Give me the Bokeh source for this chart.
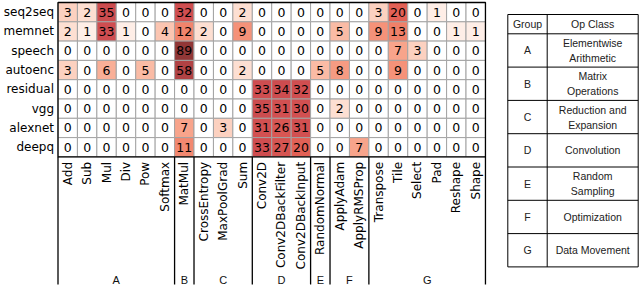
import math
from bokeh.plotting import figure
from bokeh.models import Range1d, ColumnDataSource, LogColorMapper
from bokeh.layouts import row
from bokeh.embed import file_html
from bokeh.resources import INLINE
from bokeh.core.properties import value

# ---------------- data ----------------
workloads = ["seq2seq", "memnet", "speech", "autoenc", "residual", "vgg", "alexnet", "deepq"]
ops = ["Add", "Sub", "Mul", "Div", "Pow", "Softmax", "MatMul", "CrossEntropy",
       "MaxPoolGrad", "Sum", "Conv2D", "Conv2DBackFilter", "Conv2DBackInput",
       "RandomNormal", "ApplyAdam", "ApplyRMSProp", "Transpose", "Tile", "Select",
       "Pad", "Reshape", "Shape"]
op_groups = ["A"] * 6 + ["B"] + ["C"] * 3 + ["D"] * 3 + ["E"] + ["F"] * 2 + ["G"] * 6

seq2seq = [3, 2, 35, 0, 0, 0, 32, 0, 0, 2, 0, 0, 0, 0, 0, 0, 3, 20, 0, 1, 0, 0]
memnet = [2, 1, 33, 1, 0, 4, 12, 2, 0, 9, 0, 0, 0, 0, 5, 0, 9, 13, 0, 0, 1, 1]
speech = [0, 0, 0, 0, 0, 0, 89, 0, 0, 0, 0, 0, 0, 0, 0, 0, 0, 7, 3, 0, 0, 0]
autoenc = [3, 0, 6, 0, 5, 0, 58, 0, 0, 2, 0, 0, 0, 5, 8, 0, 0, 9, 0, 0, 0, 0]
residual = [0, 0, 0, 0, 0, 0, 0, 0, 0, 0, 33, 34, 32, 0, 0, 0, 0, 0, 0, 0, 0, 0]
vgg = [0, 0, 0, 0, 0, 0, 0, 0, 0, 0, 35, 31, 30, 0, 2, 0, 0, 0, 0, 0, 0, 0]
alexnet = [0, 0, 0, 0, 0, 0, 7, 0, 3, 0, 31, 26, 31, 0, 0, 0, 0, 0, 0, 0, 0, 0]
deepq = [0, 0, 0, 0, 0, 0, 11, 0, 0, 0, 33, 27, 20, 0, 0, 7, 0, 0, 0, 0, 0, 0]
matrix = [seq2seq, memnet, speech, autoenc, residual, vgg, alexnet, deepq]

group_letters = ["A", "B", "C", "D", "E", "F", "G"]
group_classes = ["Elementwise\nArithmetic", "Matrix\nOperations", "Reduction and\nExpansion",
                 "Convolution", "Random\nSampling", "Optimization", "Data Movement"]

# ---------------- styling / layout ----------------
W1, H = 500, 303
W2 = 640 - W1
CW, RH = 19.43, 19.3         # px per column / row
LEFT_PX, TOP_PX = 57.5, 2    # heatmap origin inside figure
DEJAVU = value("DejaVu Sans")
SANS = value("Liberation Sans")

# palette (log scale on values 1..100)
anchors = [(0.00, (254, 238, 231)), (0.15, (253, 223, 210)), (0.24, (252, 209, 192)),
           (0.35, (250, 187, 165)), (0.42, (248, 165, 140)), (0.48, (245, 146, 120)),
           (0.55, (240, 130, 106)), (0.65, (226, 97, 86)), (0.76, (207, 77, 80)),
           (0.88, (178, 66, 68)), (0.975, (146, 55, 55)), (1.00, (136, 50, 50))]
palette = []
for i in range(256):
    tt = i / 255
    for (t0, c0), (t1, c1) in zip(anchors[:-1], anchors[1:]):
        if t0 <= tt <= t1:
            f = (tt - t0) / (t1 - t0) if t1 > t0 else 0
            c = tuple(int(round(a + (b - a) * f)) for a, b in zip(c0, c1))
            palette.append("#%02x%02x%02x" % c)
            break
mapper = LogColorMapper(palette=palette, low=1, high=100, low_color="#ffffff")

nrow, ncol = len(workloads), len(ops)
xs, ys, vs, labels = [], [], [], []
for r, vals in enumerate(matrix):
    for c, v in enumerate(vals):
        xs.append(c + 0.5)
        ys.append(-(r + 0.5))
        vs.append(v)
        labels.append(str(v))
src = ColumnDataSource(dict(x=xs, y=ys, v=vs, label=labels))

p = figure(width=W1, height=H, output_backend="svg", toolbar_location=None,
           x_range=Range1d(-LEFT_PX / CW, (W1 - LEFT_PX) / CW),
           y_range=Range1d(-(H - TOP_PX) / RH, TOP_PX / RH),
           x_axis_location=None, y_axis_location=None, min_border=0)
p.outline_line_color = None
p.grid.visible = False
p.background_fill_color = "white"

p.rect(x="x", y="y", width=1, height=1, source=src,
       fill_color={"field": "v", "transform": mapper},
       line_color="#a3a3a3", line_width=1)
p.text(x="x", y="y", text="label", source=src, text_font=DEJAVU,
       text_font_size="12.5px", text_align="center", text_baseline="middle",
       text_color="black")

# frame
p.rect(x=[ncol / 2], y=[-nrow / 2], width=ncol, height=nrow,
       fill_color=None, line_color="black", line_width=1.3)

# row labels
p.text(x=[-4 / CW] * nrow, y=[-(r + 0.5) for r in range(nrow)], text=workloads,
       text_font=DEJAVU, text_font_size="12px", text_align="right",
       text_baseline="middle", text_color="black")

# column labels
p.text(x=[c + 0.5 for c in range(ncol)], y=[-nrow - 5 / RH] * ncol, text=ops,
       angle=math.pi / 2, text_font=DEJAVU, text_font_size="12px",
       text_align="right", text_baseline="middle", text_color="black")

# group separators and labels
bounds = [0] + [c for c in range(1, ncol) if op_groups[c] != op_groups[c - 1]] + [ncol]
y_line_bot = -(284 - TOP_PX) / RH
p.segment(x0=bounds, y0=[-nrow] * len(bounds), x1=bounds, y1=[y_line_bot] * len(bounds),
          line_color="black", line_width=1.3)
gx = [(a + b) / 2 for a, b in zip(bounds[:-1], bounds[1:])]
p.text(x=gx, y=[-(279 - TOP_PX) / RH] * len(gx), text=group_letters,
       text_font=SANS, text_font_size="11px", text_align="center",
       text_baseline="middle", text_color="#111111")

# ---------------- table ----------------
t = figure(width=W2, height=H, output_backend="svg", toolbar_location=None,
           x_range=Range1d(0, W2), y_range=Range1d(H, 0),
           x_axis_location=None, y_axis_location=None, min_border=0)
t.outline_line_color = None
t.grid.visible = False

tl, tr, tdiv = 7.3, 137.7, 46.7
ttop, hh, rh = 14, 19.3, 33.3
row_tops = [ttop + hh + i * rh for i in range(len(group_letters))]
tbot = row_tops[-1] + rh
t.quad(left=[tl], right=[tr], top=[ttop], bottom=[tbot], fill_color=None,
       line_color="black", line_width=1)
hl = [ttop + hh] + row_tops[1:]
t.segment(x0=[tl] * len(hl), y0=hl, x1=[tr] * len(hl), y1=hl, line_color="black", line_width=1)
t.segment(x0=[tdiv], y0=[ttop], x1=[tdiv], y1=[tbot], line_color="black", line_width=1)

t.text(x=[(tl + tdiv) / 2, (tdiv + tr) / 2], y=[ttop + hh / 2] * 2, text=["Group", "Op Class"],
       text_font=SANS, text_font_size="10.5px", text_align="center", text_baseline="middle",
       text_color="#222222")
rc = [y + rh / 2 for y in row_tops]
t.text(x=[(tl + tdiv) / 2] * len(rc), y=rc, text=group_letters,
       text_font=SANS, text_font_size="10.5px", text_align="center", text_baseline="middle",
       text_color="#222222")
t.text(x=[(tdiv + tr) / 2] * len(rc), y=rc, text=group_classes,
       text_font=SANS, text_font_size="10.5px", text_align="center", text_baseline="middle",
       text_line_height=1.25, text_color="#222222")

layout = row(p, t)
open("out.html", "w").write(file_html(layout, INLINE))
